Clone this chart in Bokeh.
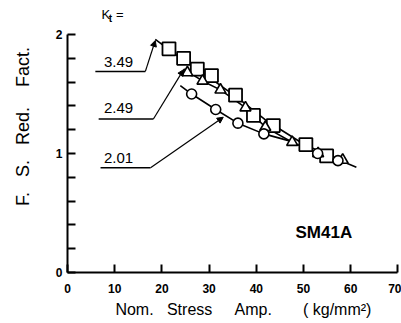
from bokeh.plotting import figure
from bokeh.models import FixedTicker, Label, Arrow, NormalHead, Range1d
from bokeh.embed import file_html
from bokeh.resources import INLINE

# ---- data ----
sq_x = [21.5, 24.6, 27.5, 30.5, 35.6, 39.4, 43.6, 50.5, 54.9]
sq_y = [1.88, 1.80, 1.71, 1.655, 1.49, 1.32, 1.235, 1.075, 0.98]
tri_x = [25.4, 28.6, 32.4, 37.7, 41.9, 47.6, 53.1, 58.3]
tri_y = [1.68, 1.61, 1.535, 1.385, 1.22, 1.095, 1.0, 0.945]
cir_x = [26.3, 31.4, 36.1, 41.6, 53.0, 57.3]
cir_y = [1.50, 1.37, 1.255, 1.165, 1.0, 0.94]

curve_349_x = [18.6, 24.0, 30.0, 36.0, 42.0, 50.0, 56.0, 61.2]
curve_349_y = [1.96, 1.80, 1.64, 1.47, 1.28, 1.08, 0.97, 0.885]
curve_249_x = [24.6, 28.6, 32.4, 37.7, 42.0, 47.6, 53.0, 58.3]
curve_249_y = [1.71, 1.61, 1.535, 1.385, 1.22, 1.095, 1.0, 0.945]
curve_201_x = [23.9, 26.3, 31.4, 36.1, 41.6, 47.6]
curve_201_y = [1.57, 1.50, 1.37, 1.255, 1.165, 1.10]

kt_labels = ["3.49", "2.49", "2.01"]
x_ticks = [0, 10, 20, 30, 40, 50, 60, 70]
y_ticks = [0, 1, 2]
y_minor = [0.2, 0.4, 0.6, 0.8, 1.2, 1.4, 1.6, 1.8]

FONT = "Liberation Sans"
NB = "\u00a0"

p = figure(width=401, height=323, output_backend="svg", toolbar_location=None,
           x_range=Range1d(0, 70.76), y_range=Range1d(0, 2.286),
           min_border_left=67, min_border_right=0, min_border_top=0,
           min_border_bottom=51)
p.outline_line_color = None
p.xgrid.visible = False
p.ygrid.visible = False
p.background_fill_color = "white"
p.border_fill_color = "white"

# axes
xa = p.xaxis[0]
xa.ticker = FixedTicker(ticks=x_ticks, minor_ticks=[])
xa.bounds = (0, 70)
xa.axis_line_width = 2
xa.major_tick_in = 8
xa.major_tick_out = 0
xa.major_tick_line_width = 2
xa.minor_tick_in = 0
xa.minor_tick_out = 0
xa.major_label_standoff = 11
xa.major_label_text_font = FONT
xa.major_label_text_font_style = "bold"
xa.major_label_text_font_size = "12px"
xa.major_label_text_color = "black"
xa.axis_label = (NB * 4 + "Nom." + NB * 3 + "Stress" + NB * 5 + "Amp." + NB * 7
                 + "(" + NB + "kg/mm²" + ")")
xa.axis_label_standoff = 5
xa.axis_label_text_font = FONT
xa.axis_label_text_font_style = "normal"
xa.axis_label_text_font_size = "16px"
xa.axis_label_text_color = "black"

ya = p.yaxis[0]
ya.ticker = FixedTicker(ticks=y_ticks, minor_ticks=y_minor)
ya.bounds = (0, 2)
ya.axis_line_width = 2
ya.major_tick_in = 8
ya.major_tick_out = 0
ya.minor_tick_in = 8
ya.minor_tick_out = 0
ya.major_tick_line_width = 2
ya.minor_tick_line_width = 2
ya.major_label_standoff = 5
ya.major_label_text_font = FONT
ya.major_label_text_font_style = "bold"
ya.major_label_text_font_size = "12px"
ya.major_label_text_color = "black"
ya.axis_label = (NB * 4 + "F." + NB * 3 + "S." + NB * 3 + "Red." + NB * 4 + "Fact.")
ya.axis_label_standoff = 20
ya.axis_label_text_font = FONT
ya.axis_label_text_font_style = "normal"
ya.axis_label_text_font_size = "18px"
ya.axis_label_text_color = "black"

# curves
for cx, cy in [(curve_349_x, curve_349_y), (curve_249_x, curve_249_y), (curve_201_x, curve_201_y)]:
    p.line(cx, cy, line_color="black", line_width=1.6)

# markers
p.scatter(sq_x, sq_y, marker="square", size=13, fill_color="white",
          line_color="black", line_width=1.8)
p.scatter(tri_x, tri_y, marker="triangle", size=11, fill_color="white",
          line_color="black", line_width=1.6)
p.scatter(cir_x, cir_y, marker="circle", size=10, fill_color="white",
          line_color="black", line_width=1.6)

# leaders: underline + arrow
label_pos = [(10.8, 1.765), (10.8, 1.38), (10.8, 0.96)]
underline = [((5.9, 16.5), 1.69), ((6.6, 18.2), 1.29), ((7.0, 17.6), 0.88)]
targets = [(18.6, 1.95), (24.6, 1.705), (33.0, 1.305)]
for txt, (lx, ly), ((u0, u1), uy), (tx, ty) in zip(kt_labels, label_pos, underline, targets):
    p.add_layout(Label(x=lx, y=ly, text=txt, text_align="center", text_baseline="middle",
                       text_font=FONT, text_font_size="15px", text_color="black"))
    p.line([u0, u1], [uy, uy], line_color="black", line_width=1.5)
    p.add_layout(Arrow(x_start=u1, y_start=uy, x_end=tx, y_end=ty, line_width=1.2,
                       end=NormalHead(size=6, fill_color="black", line_color="black")))

# K_t =
p.add_layout(Label(x=7.2, y=2.168, text="K", text_align="left", text_baseline="middle",
                   text_font=FONT, text_font_size="13px", text_color="black"))
p.add_layout(Label(x=8.75, y=2.135, text="t", text_align="left", text_baseline="middle",
                   text_font=FONT, text_font_size="10px", text_font_style="bold",
                   text_color="black"))
p.add_layout(Label(x=10.3, y=2.168, text="=", text_align="left", text_baseline="middle",
                   text_font=FONT, text_font_size="13px", text_color="black"))

# specimen
p.add_layout(Label(x=48.3, y=0.336, text="SM41A", text_align="left", text_baseline="middle",
                   text_font=FONT, text_font_size="17px", text_font_style="bold",
                   text_color="black"))

open("out.html", "w").write(file_html(p, INLINE))
